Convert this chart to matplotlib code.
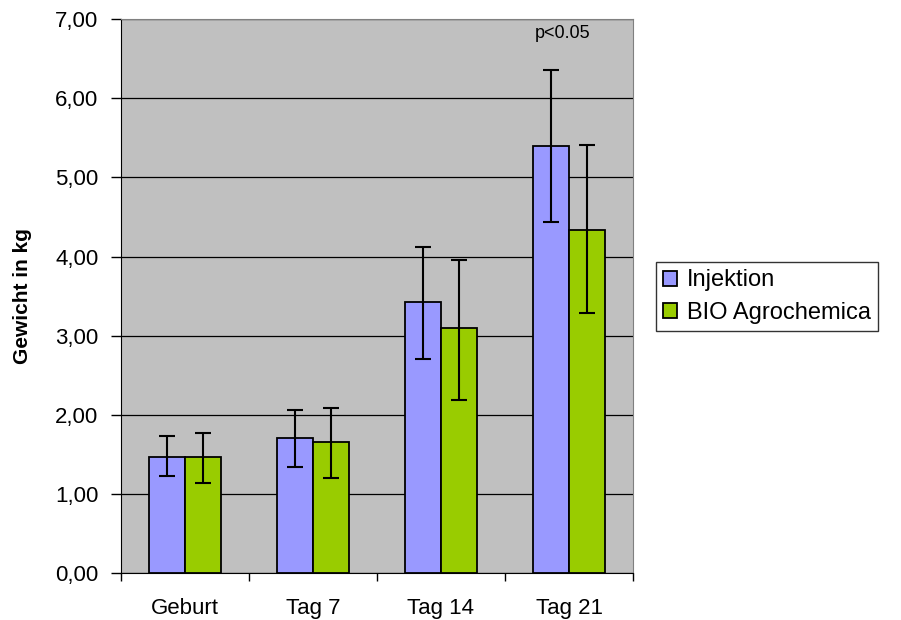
import numpy as np
import matplotlib.pyplot as plt
from matplotlib.ticker import FuncFormatter

plt.rcParams['font.family'] = ['Liberation Sans', 'DejaVu Sans']

# Data
categories = ["Geburt", "Tag 7", "Tag 14", "Tag 21"]
injektion = [1.47, 1.71, 3.42, 5.40]
injektion_lo = [1.23, 1.34, 2.70, 4.43]
injektion_hi = [1.73, 2.06, 4.12, 6.36]
bio = [1.47, 1.65, 3.09, 4.34]
bio_lo = [1.14, 1.20, 2.19, 3.29]
bio_hi = [1.77, 2.08, 3.96, 5.41]
yticks = [0, 1, 2, 3, 4, 5, 6, 7]

x = np.arange(len(categories))
w = 0.28

fig = plt.figure(figsize=(9.01, 6.2), dpi=100)
ax = fig.add_axes([0.134, 0.076, 0.5686, 0.893])
ax.set_facecolor("#C0C0C0")

err_kw = dict(ecolor="black", elinewidth=1.5, capsize=6, capthick=1.5)
inj = np.array(injektion)
b = np.array(bio)
ax.bar(x - w / 2, inj, w, color="#9999FF", edgecolor="black", linewidth=1.3,
       label="Injektion", zorder=3,
       yerr=[inj - np.array(injektion_lo), np.array(injektion_hi) - inj], error_kw=err_kw)
ax.bar(x + w / 2, b, w, color="#99CC00", edgecolor="black", linewidth=1.3,
       label="BIO Agrochemica", zorder=3,
       yerr=[b - np.array(bio_lo), np.array(bio_hi) - b], error_kw=err_kw)

ax.set_xlim(-0.5, len(categories) - 0.5)
ax.set_ylim(0, 7)
ax.set_yticks(yticks)
ax.yaxis.set_major_formatter(FuncFormatter(lambda v, p: f"{v:.2f}".replace(".", ",")))
ax.yaxis.grid(True, color="black", linewidth=0.9, zorder=1)
ax.set_axisbelow(True)

ax.set_xticks(x)
ax.set_xticklabels(categories)
ax.set_xticks(np.arange(len(categories) + 1) - 0.5, minor=True)
ax.tick_params(axis="x", which="major", length=0, pad=18, labelsize=16)
ax.tick_params(axis="x", which="minor", length=6, width=1, direction="out")
ax.tick_params(axis="y", length=7, width=1, pad=9, labelsize=16)

for s in ["top", "right"]:
    ax.spines[s].set_color("#808080")
ax.spines["left"].set_color("black")
ax.spines["bottom"].set_color("black")

ax.set_ylabel("Gewicht in kg", fontsize=15, fontweight="bold")
ax.yaxis.set_label_coords(-0.174, 0.5)

ax.text(2.95, 6.82, "p<0.05", ha="center", va="center", fontsize=13)

leg = fig.legend(loc="upper left", bbox_to_anchor=(0.728, 0.577), fontsize=17,
                 frameon=True, fancybox=False, edgecolor="black",
                 handlelength=0.6, handleheight=0.6, handletextpad=0.4,
                 borderpad=0.3, labelspacing=0.45, borderaxespad=0)
leg.get_frame().set_linewidth(1)

fig.savefig("out.png", dpi=100)
